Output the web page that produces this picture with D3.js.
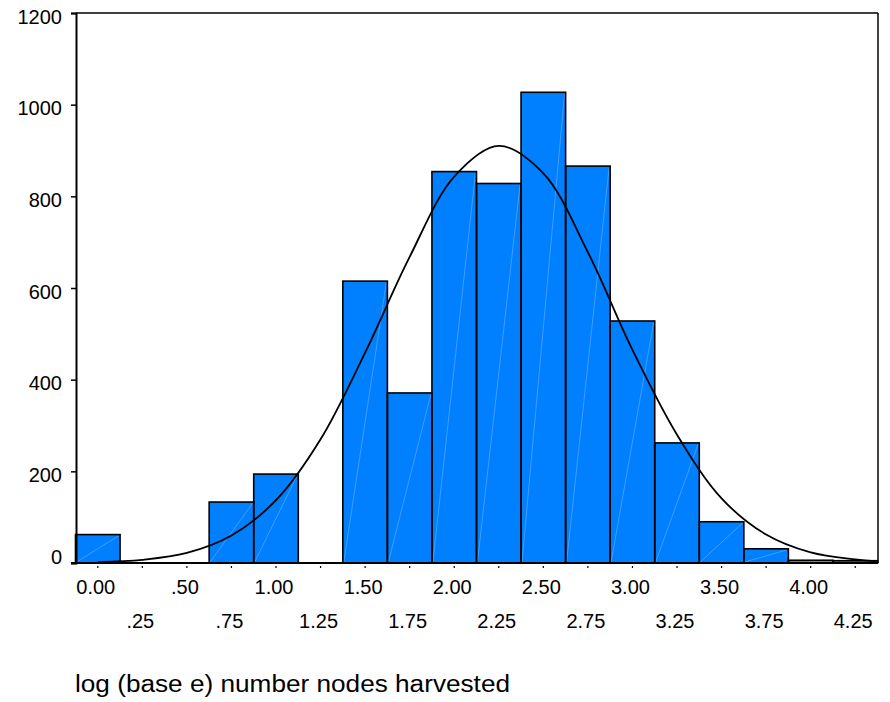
<!DOCTYPE html>
<html>
<head>
<meta charset="utf-8">
<script src="https://cdn.jsdelivr.net/npm/d3@7/dist/d3.min.js"></script>
<style>
  html, body { margin: 0; padding: 0; background: #fff; }
  svg { display: block; }
  text { font-family: "Liberation Sans", Arial, Helvetica, sans-serif; fill: #000; }
</style>
</head>
<body>
<script>
// Histogram of log (base e) number of nodes harvested, bin width 0.25
const binCenters = [0.00, 0.25, 0.50, 0.75, 1.00, 1.25, 1.50, 1.75, 2.00, 2.25,
                    2.50, 2.75, 3.00, 3.25, 3.50, 3.75, 4.00, 4.25];
const binCounts  = [62, 0, 0, 133, 194, 0, 615, 371, 854, 828,
                    1027, 866, 528, 262, 90, 31, 6, 5];
const binWidth = 0.25;

// Overlaid normal curve, sampled along the x axis
const curveX = [0.00, 0.25, 0.50, 0.75, 1.00, 1.25, 1.50, 1.75, 2.00, 2.25,
                2.50, 2.75, 3.00, 3.25, 3.50, 3.75, 4.00, 4.25, 4.375];
const curveY = [2, 7, 22, 60, 137, 270, 459, 668, 843, 910,
                850, 678, 465, 280, 141, 62, 23, 8, 4];

// Axis ticks and labels
const yTicks = [0, 200, 400, 600, 800, 1000, 1200];
const xTicksTop = [0.00, 0.50, 1.00, 1.50, 2.00, 2.50, 3.00, 3.50, 4.00];
const xTicksTopLabels = ["0.00", ".50", "1.00", "1.50", "2.00", "2.50", "3.00", "3.50", "4.00"];
const xTicksBottom = [0.25, 0.75, 1.25, 1.75, 2.25, 2.75, 3.25, 3.75, 4.25];
const xTicksBottomLabels = [".25", ".75", "1.25", "1.75", "2.25", "2.75", "3.25", "3.75", "4.25"];
const xTitle = "log (base e) number nodes harvested";

const W = 890, H = 702;
const plotLeft = 76, plotRight = 878, plotTop = 13, plotBottom = 563;

const svg = d3.select("body").append("svg").attr("width", W).attr("height", H);

const x = d3.scaleLinear().domain([-0.125, 4.375]).range([75.5, 877.5]);
const y = d3.scaleLinear().domain([0, 1200]).range([plotBottom, plotTop]);

// Bars
const bars = binCenters.map((c, i) => ({ c, n: binCounts[i] })).filter(d => d.n > 0);
const g = svg.append("g");
g.selectAll("rect.bar").data(bars).join("rect")
  .attr("class", "bar")
  .attr("x", d => x(d.c - binWidth / 2))
  .attr("y", d => y(d.n))
  .attr("width", d => x(d.c + binWidth / 2) - x(d.c - binWidth / 2))
  .attr("height", d => y(0) - y(d.n))
  .attr("fill", "#0080ff");

// faint diagonal seam inside each bar
g.selectAll("line.seam").data(bars).join("line")
  .attr("class", "seam")
  .attr("x1", d => x(d.c - binWidth / 2) + 1)
  .attr("y1", y(0) - 1)
  .attr("x2", d => x(d.c + binWidth / 2) - 1)
  .attr("y2", d => y(d.n) + 1)
  .attr("stroke", "rgba(255,255,255,0.3)")
  .attr("stroke-width", 0.8);

g.selectAll("rect.outline").data(bars).join("rect")
  .attr("class", "outline")
  .attr("x", d => x(d.c - binWidth / 2))
  .attr("y", d => y(d.n))
  .attr("width", d => x(d.c + binWidth / 2) - x(d.c - binWidth / 2))
  .attr("height", d => y(0) - y(d.n))
  .attr("fill", "none")
  .attr("stroke", "#000")
  .attr("stroke-width", 1.6);

// Normal curve
const line = d3.line()
  .x((d, i) => x(curveX[i]))
  .y(d => y(d))
  .curve(d3.curveCatmullRom.alpha(0.5));
svg.append("path")
  .datum(curveY)
  .attr("d", line)
  .attr("fill", "none")
  .attr("stroke", "#000")
  .attr("stroke-width", 1.8);

// Frame: top and right edges
svg.append("line").attr("x1", plotLeft).attr("x2", plotRight).attr("y1", plotTop).attr("y2", plotTop)
  .attr("stroke", "#000").attr("stroke-width", 1.5);
svg.append("line").attr("x1", plotRight).attr("x2", plotRight).attr("y1", plotTop).attr("y2", plotBottom)
  .attr("stroke", "#000").attr("stroke-width", 1.5);

// Y axis
const yAxis = d3.axisLeft(y).tickValues(yTicks).tickSize(5).tickPadding(9).tickFormat(d3.format("d"));
const ya = svg.append("g").attr("transform", `translate(${plotLeft},0)`).call(yAxis);
ya.select(".domain").attr("stroke", "#000").attr("stroke-width", 2);
ya.selectAll(".tick line").attr("stroke", "#000").attr("stroke-width", 1.5);
ya.selectAll(".tick text").attr("font-size", 20)
  .attr("dy", d => d === 0 ? "0" : "0.5em")
  .style("font-family", "'Liberation Sans', Arial, sans-serif");

// X axis baseline (extends slightly left of the y axis)
svg.append("line").attr("x1", plotLeft - 5).attr("x2", plotRight).attr("y1", plotBottom).attr("y2", plotBottom)
  .attr("stroke", "#000").attr("stroke-width", 2);

// X tick marks: small dots below the axis
const allX = xTicksTop.concat(xTicksBottom);
svg.append("g").selectAll("line").data(allX).join("line")
  .attr("x1", d => x(d)).attr("x2", d => x(d))
  .attr("y1", plotBottom + 3).attr("y2", plotBottom + 5)
  .attr("stroke", "#000").attr("stroke-width", 1.2);

// X labels in two staggered rows
svg.append("g").selectAll("text").data(xTicksTop).join("text")
  .attr("x", d => x(d) - 2).attr("y", 594)
  .attr("text-anchor", "middle").attr("font-size", 20)
  .text((d, i) => xTicksTopLabels[i]);
svg.append("g").selectAll("text").data(xTicksBottom).join("text")
  .attr("x", d => x(d) - 2).attr("y", 628)
  .attr("text-anchor", "middle").attr("font-size", 20)
  .text((d, i) => xTicksBottomLabels[i]);

// X axis title
svg.append("text")
  .attr("x", 75).attr("y", 692)
  .attr("font-size", 23)
  .attr("textLength", 435).attr("lengthAdjust", "spacingAndGlyphs")
  .text(xTitle);
</script>
</body>
</html>
